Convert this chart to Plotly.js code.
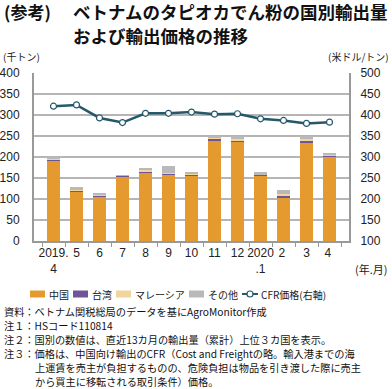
<!DOCTYPE html>
<html><head><meta charset="utf-8">
<script src="https://cdn.plot.ly/plotly-3.0.1.min.js"></script>
<style>
html,body{margin:0;padding:0;background:#fff;}
#chart{width:392px;height:389px;}
</style>
</head><body><div id="chart"></div>
<script>
const months = ["2019.<br>4","5","6","7","8","9","10","11","12","2020<br>.1","2 ","3","4 "];
const china    = [190,117,105,152,162,157,154,238,236,155,103,234,199];
const taiwan   = [4,1,2,2,3,3,2,4,3,1,3,4,3];
const malaysia = [2,3,3,1,4,2,4,3,5,1,5,5,3];
const others   = [5,8,5,3,6,16,5,5,6,7,10,8,5];
const cfr      = [421,424,393,382,404,404,407,402,403,391,387,380,383];
const seriesNames = ["中国","台湾","マレーシア","その他","CFR価格(右軸)"];
const seriesColors = ["#E49A2E","#6E5499","#F0D59E","#B9B9B9","#24586A"];

const F = "Liberation Sans, Arial, 'Noto Sans CJK JP', sans-serif";
const J = "'Noto Sans CJK JP', sans-serif";

const traces = [
  {type:"bar", name:seriesNames[0], x:months, y:china, marker:{color:seriesColors[0]}},
  {type:"bar", name:seriesNames[1], x:months, y:taiwan, marker:{color:seriesColors[1]}},
  {type:"bar", name:seriesNames[2], x:months, y:malaysia, marker:{color:seriesColors[2]}},
  {type:"bar", name:seriesNames[3], x:months, y:others, marker:{color:seriesColors[3]}},
  {type:"scatter", mode:"lines+markers", name:seriesNames[4], x:months, y:cfr, yaxis:"y2",
   line:{color:seriesColors[4], width:2.5},
   marker:{symbol:"circle", size:6, color:"#ffffff", line:{color:seriesColors[4], width:1.2}}}
];

const notes = [
  ["資料：ベトナム関税総局のデータを基にAgroMonitor作成", 2, 311],
  ["注１：HSコード110814", 2, 325],
  ["注２：国別の数値は、直近13カ月の輸出量（累計）上位３カ国を表示。", 2, 339],
  ["注３：価格は、中国向け輸出のCFR（Cost and Freightの略。輸入港までの海", 2, 353],
  ["上運賃を売主が負担するものの、危険負担は物品を引き渡した際に売主", 33, 367],
  ["から買主に移転される取引条件）価格。", 33, 381]
];
const W = 392, H = 389, ml = 34, mr = 43, mt = 73, mb = 148;
const pw = W - ml - mr, ph = H - mt - mb;
function px(x){return (x - ml)/pw;}
function py(y){return (H - mb - y)/ph;}

const ann = [
  {text:"<b>(参考)</b>", x:px(2), y:py(12), xanchor:"left", font:{family:J, size:17, color:"#111"}},
  {text:"<b>ベトナムのタピオカでん粉の国別輸出量</b>", x:px(71), y:py(12), xanchor:"left", font:{family:J, size:17.5, color:"#111"}},
  {text:"<b>および輸出価格の推移</b>", x:px(71), y:py(36), xanchor:"left", font:{family:J, size:17.5, color:"#111"}},
  {text:"(千トン)", x:px(1), y:py(57), xanchor:"left", font:{family:J, size:10, color:"#222"}},
  {text:"(米ドル/トン)", x:px(391), y:py(57), xanchor:"right", font:{family:J, size:10, color:"#222"}},
  {text:"(年.月)", x:px(390), y:py(269), xanchor:"right", font:{family:J, size:11, color:"#222"}}
];
notes.forEach(n => ann.push({text:n[0], x:px(n[1]), y:py(n[2]), xanchor:"left", font:{family:J, size:10.2, color:"#111"}}));

// manual legend
const shapes = [];
const legY = 294, legFont = 10;
const textW = [20, 20, 50, 30, 66];
let cx = 30;
seriesNames.forEach((nm, i) => {
  if (i < 4) {
    shapes.push({type:"rect", xref:"paper", yref:"paper", x0:px(cx), x1:px(cx+15), y0:py(legY-3.5), y1:py(legY+3.5),
                 fillcolor:seriesColors[i], line:{width:0}});
  } else {
    shapes.push({type:"line", xref:"paper", yref:"paper", x0:px(cx), x1:px(cx+16), y0:py(legY), y1:py(legY),
                 line:{color:seriesColors[i], width:2}});
    shapes.push({type:"circle", xref:"paper", yref:"paper", xsizemode:"pixel", ysizemode:"pixel",
                 xanchor:px(cx+8), yanchor:py(legY), x0:-3, x1:3, y0:-3, y1:3,
                 fillcolor:"#ffffff", line:{color:seriesColors[i], width:1.2}});
  }
  ann.push({text:nm, x:px(cx+17), y:py(legY), xanchor:"left", font:{family:J, size:legFont, color:"#222"}});
  cx += 17 + textW[i] + 6;
});
ann.forEach(a => { a.xref = "paper"; a.yref = "paper"; a.yanchor = "middle"; a.showarrow = false; });

const layout = {
  width:W, height:H, margin:{l:ml, r:mr, t:mt, b:mb, pad:0},
  paper_bgcolor:"#fff", plot_bgcolor:"#fff",
  barmode:"stack", bargap:0.42,
  font:{family:F, size:12, color:"#222"},
  showlegend:false,
  xaxis:{type:"category", tickson:"boundaries", ticks:"outside", ticklen:4, tickcolor:"#999", tickangle:0,
         showline:true, linecolor:"#999", linewidth:1.5, showgrid:false, tickfont:{family:F, size:12}},
  yaxis:{range:[0,400], dtick:50, showgrid:true, gridcolor:"#B5B5B5", gridwidth:1.3, showline:true, linecolor:"#999", linewidth:2,
         ticks:"", tickfont:{family:F, size:12}, ticklabelstandoff:10, zeroline:false},
  yaxis2:{range:[100,500], dtick:50, overlaying:"y", side:"right", showgrid:false, showline:true, linecolor:"#999", linewidth:2,
          ticks:"", tickfont:{family:F, size:12}, ticklabelstandoff:7, zeroline:false},
  annotations:ann, shapes:shapes
};
Plotly.newPlot("chart", traces, layout, {staticPlot:true, displayModeBar:false});
</script></body></html>
